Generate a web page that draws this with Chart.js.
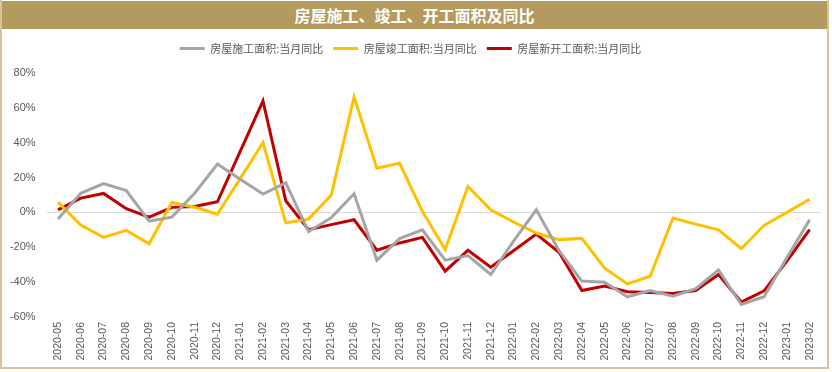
<!DOCTYPE html>
<html>
<head>
<meta charset="utf-8">
<script src="https://cdn.jsdelivr.net/npm/chart.js@4.4.0/dist/chart.umd.min.js"></script>
<style>
  html, body { margin: 0; padding: 0; background: #fff; }
  #frame {
    position: absolute; left: 0; top: 0; width: 825px; height: 367px;
    border-left: 2px solid #d6c59c; border-right: 2px solid #d6c59c; border-bottom: 2px solid #d6c59c;
    background: #fff;
  }
  #title {
    position: absolute; left: 0; top: 1px; width: 825px; height: 28px;
    background: #b59a5e; color: #fff;
    font: bold 16px "Noto Sans CJK SC", sans-serif;
    text-align: center; line-height: 28px;
  }
  #wrap { position: absolute; left: 0; top: 30px; width: 828px; height: 338px; }
</style>
</head>
<body>
<div id="frame"><div id="title">房屋施工、竣工、开工面积及同比</div></div>
<div id="wrap"><canvas id="chartCanvas"></canvas></div>
<script>
const months = [
  '2020-05', '2020-06', '2020-07', '2020-08', '2020-09', '2020-10', '2020-11', '2020-12',
  '2021-01', '2021-02', '2021-03', '2021-04', '2021-05', '2021-06', '2021-07', '2021-08',
  '2021-09', '2021-10', '2021-11', '2021-12', '2022-01', '2022-02', '2022-03', '2022-04',
  '2022-05', '2022-06', '2022-07', '2022-08', '2022-09', '2022-10', '2022-11', '2022-12',
  '2023-01', '2023-02'
];

// 房屋施工面积:当月同比 (%)
const underConstruction = [
  -3.8, 11.0, 16.5, 12.5, -5.0, -2.7, 11.0, 27.8,
  19.0, 10.5, 17.0, -11.0, -3.0, 10.7, -27.4, -15.0,
  -10.0, -27.4, -24.8, -35.6, -16.5, 1.5, -22.0, -39.4,
  -40.0, -48.4, -44.8, -48.0, -43.8, -33.0, -52.8, -48.4,
  -26.0, -4.2
];

// 房屋竣工面积:当月同比 (%)
const completed = [
  5.9, -7.2, -14.3, -10.3, -18.0, 5.7, 3.0, -1.0,
  19.5, 40.0, -6.0, -3.8, 10.0, 66.3, 25.3, 28.2,
  0.6, -21.3, 14.9, 1.5, -5.5, -11.8, -15.6, -14.9,
  -32.0, -41.0, -36.6, -3.2, -6.7, -10.0, -20.8, -7.4,
  0.0, 7.6
];

// 房屋新开工面积:当月同比 (%)
const newStarts = [
  1.5, 8.2, 10.9, 2.1, -2.7, 2.9, 3.4, 6.1,
  35.0, 64.0, 6.7, -9.9, -7.0, -4.2, -21.7, -17.5,
  -14.3, -33.7, -21.7, -31.4, -22.0, -12.4, -22.9, -44.8,
  -42.3, -45.5, -45.9, -46.5, -44.8, -35.6, -51.4, -45.0,
  -28.0, -9.9
];

const yTicks = [-60, -40, -20, 0, 20, 40, 60, 80];

const textColor = '#595959';

function line(label, data, color) {
  return {
    label: label,
    data: data,
    borderColor: color,
    backgroundColor: color,
    borderWidth: 3,
    pointRadius: 0,
    pointStyle: 'line',
    tension: 0
  };
}

// push the plot down a bit below the legend
const legendGap = {
  id: 'legendGap',
  beforeInit(chart) {
    const fit = chart.legend.fit;
    chart.legend.fit = function () {
      fit.bind(chart.legend)();
      this.height += 9;
    };
  }
};

new Chart(document.getElementById('chartCanvas').getContext('2d'), {
  type: 'line',
  data: {
    labels: months,
    datasets: [
      line('房屋施工面积:当月同比', underConstruction, '#a5a5a5'),
      line('房屋竣工面积:当月同比', completed, '#ffc000'),
      line('房屋新开工面积:当月同比', newStarts, '#c00000')
    ]
  },
  plugins: [legendGap],
  options: {
    responsive: true,
    maintainAspectRatio: false,
    animation: false,
    layout: { padding: { left: 0, right: 7, top: 3, bottom: 0 } },
    plugins: {
      legend: {
        position: 'top',
        labels: {
          usePointStyle: true,
          pointStyleWidth: 25,
          boxWidth: 20,
          boxHeight: 3,
          padding: 10,
          color: textColor,
          font: { family: '"Noto Sans CJK SC", sans-serif', size: 11 }
        }
      },
      tooltip: { enabled: false }
    },
    scales: {
      x: {
        offset: true,
        grid: { display: false, drawTicks: false },
        border: { display: false },
        ticks: {
          autoSkip: false,
          minRotation: 90,
          maxRotation: 90,
          padding: 5,
          color: textColor,
          font: { family: '"Liberation Sans", sans-serif', size: 10.5 }
        },
        afterFit: s => { s.height = 51; }
      },
      y: {
        min: -60,
        max: 80,
        afterBuildTicks: s => { s.ticks = yTicks.map(v => ({ value: v })); },
        grid: {
          color: c => (c.tick && c.tick.value === 0 ? '#d9d9d9' : 'transparent'),
          drawTicks: false,
          lineWidth: 1
        },
        border: { display: false },
        ticks: {
          padding: 11,
          color: textColor,
          font: { family: '"Liberation Sans", sans-serif', size: 11 },
          callback: v => v + '%'
        },
        afterFit: s => { s.width = 46.6; }
      }
    }
  }
});
</script>
</body>
</html>
